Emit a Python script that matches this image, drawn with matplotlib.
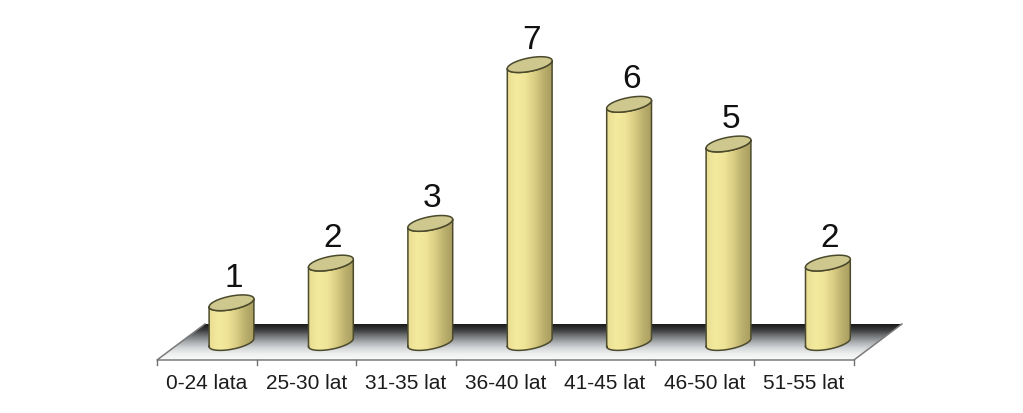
#!/usr/bin/env python3
"""Pseudo-3D cylinder bars, age groups."""
import matplotlib
matplotlib.use("Agg")
import matplotlib.pyplot as plt
import numpy as np
from matplotlib.colors import LinearSegmentedColormap
from matplotlib.patches import PathPatch, Polygon
from matplotlib.path import Path

plt.rcParams["font.family"] = ["Liberation Sans", "DejaVu Sans"]

categories = ["0-24 lata", "25-30 lat", "31-35 lat", "36-40 lat",
              "41-45 lat", "46-50 lat", "51-55 lat"]
values = [1, 2, 3, 7, 6, 5, 2]

W, H = 1023, 414
# pixels per unit, and where category 0 / value 0 land
PX_X, PX_Y = 99.4, 39.7
X0, Y0 = 231.5, 343.5

fig = plt.figure(figsize=(W / 100, H / 100), dpi=100, facecolor="white")
ax = fig.add_axes([0, 0, 1, 1])
ax.axis("off")

dx = lambda px: px / PX_X
dy = lambda px: px / PX_Y

# floor, offsets from the bar baseline
front, back = dy(-17.5), dy(18.5)
slant = dx(48)
left = -dx(74.5)
right = len(categories) - 1 + dx(26)
floor_xy = [(left, front), (right, front), (right + slant, back), (left + slant, back)]
floor_cmap = LinearSegmentedColormap.from_list(
    "floor", ["#fafafa", "#eef0f0", "#d4d6d8", "#a9acae", "#75787a", "#3d3e40", "#1a1a1a"])
grad = np.linspace(0, 1, 64).reshape(-1, 1)
im = ax.imshow(grad, extent=(left, right + slant, front, back), origin="lower",
               cmap=floor_cmap, aspect="auto", zorder=1)
clip = Polygon(floor_xy, closed=True, transform=ax.transData, fc="none", ec="none")
ax.add_patch(clip)
im.set_clip_path(clip)
ax.plot([left + slant, left, right, right + slant],
        [back, front, front, back], color="#7a7a7a", lw=1.1, zorder=2)

# category ticks and labels along the front edge
tick_len = dy(5)
step = (right - left) / len(categories)
for i in range(len(categories) + 1):
    ax.plot([left + i * step] * 2, [front, front - tick_len], color="#707070", lw=1, zorder=2)
for i, name in enumerate(categories):
    ax.text(left + (i + 0.5) * step, front - dy(22.5), name, ha="center", va="center",
            fontsize=15, color="#1c1c1c", zorder=5)

# cylinders
body_cmap = LinearSegmentedColormap.from_list(
    "body", ["#e9dd92", "#f4ea9e", "#efe498", "#dccf85", "#bdb16e", "#a89d60"])
a, b, k = dx(22.4), dy(6.8), dy(4)
t = np.linspace(0, 2 * np.pi, 121)
shade = np.linspace(0, 1, 128).reshape(1, -1)


def rim(cx, cy, ts):
    return cx + a * np.cos(ts), cy + b * np.sin(ts) + k * np.cos(ts)


for i, v in enumerate(values):
    lo = np.linspace(np.pi, 2 * np.pi, 60)
    xb, yb = rim(i, 0, lo)
    xt, yt = rim(i, v, lo[::-1])
    outline = np.column_stack([np.r_[xb, xt], np.r_[yb, yt]])
    body = PathPatch(Path(np.vstack([outline, outline[:1]])), fc="none", ec="none",
                     transform=ax.transData)
    ax.add_patch(body)
    img = ax.imshow(shade, extent=(i - a, i + a, -1, v + 1), cmap=body_cmap,
                    aspect="auto", zorder=3)
    img.set_clip_path(body)
    ax.plot(*np.vstack([outline, outline[:1]]).T, color="#4b4a2c", lw=1.1, zorder=4)
    xe, ye = rim(i, v, t)
    ax.fill(xe, ye, fc="#cfc88e", ec="#4b4a2c", lw=1.1, zorder=4)
    ax.text(i + dx(2), v + dy(25.5), str(v), ha="center", va="center",
            fontsize=24, color="#111111", zorder=5)

# imshow resets limits
ax.set_xlim(-X0 / PX_X, (W - X0) / PX_X)
ax.set_ylim((Y0 - H) / PX_Y, Y0 / PX_Y)

fig.savefig("out.png", dpi=100, facecolor="white")
plt.close(fig)
